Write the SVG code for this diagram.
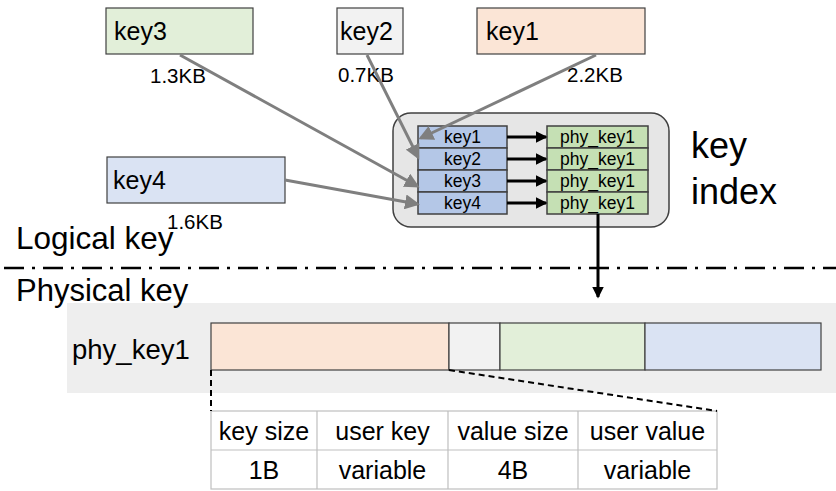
<svg xmlns="http://www.w3.org/2000/svg" width="836" height="491" viewBox="0 0 836 491">
  <style>
    text { font-family: "Liberation Sans", Arial, sans-serif; fill: #000; }
    .box { stroke: #404040; stroke-width: 1.2; }
    .cell { stroke: #404040; stroke-width: 1.5; }
    .kcell { fill: #b4c7e7; }
    .pcell { fill: #c5e0b4; }
    .ctext { font-size: 17.5px; text-anchor: middle; }
    .big { font-size: 25px; }
    .size { font-size: 20.5px; }
    .gray-arrow { stroke: #7f7f7f; stroke-width: 3; fill: none; }
    .black-arrow { stroke: #000; stroke-width: 3; fill: none; }
    .dashed { stroke: #000; stroke-width: 2; stroke-dasharray: 6 4; fill: none; }
    .tline { stroke: #bfbfbf; stroke-width: 1.2; fill: none; }
    .ttext { font-size: 25px; text-anchor: middle; }
  </style>
  <defs>
    <marker id="grayHead" markerWidth="5" markerHeight="5" refX="4" refY="2.5" orient="auto" markerUnits="strokeWidth">
      <path d="M0,0 L5,2.5 L0,5 Z" fill="#7f7f7f"/>
    </marker>
    <marker id="blackHead" markerWidth="4" markerHeight="4" refX="3.5" refY="2" orient="auto" markerUnits="strokeWidth">
      <path d="M0,0 L4,2 L0,4 Z" fill="#000"/>
    </marker>
  </defs>

  <!-- physical band -->
  <rect id="physical-band" x="67" y="303" width="769" height="90" fill="#eeeeee"/>

  <!-- logical / physical divider -->
  <line x1="4" y1="268" x2="836" y2="268" stroke="#000" stroke-width="2.5" stroke-dasharray="20 8 3 8"/>
  <text x="16" y="249" style="font-size:31.5px">Logical key</text>
  <text x="16" y="301" style="font-size:31px">Physical key</text>

  <!-- source keys -->
  <g id="key3">
    <rect class="box" x="106" y="8" width="147" height="46" fill="#e2efd9"/>
    <text class="big" x="114" y="40">key3</text>
    <text class="size" x="150" y="83">1.3KB</text>
  </g>
  <g id="key2">
    <rect class="box" x="337" y="8" width="66" height="46" fill="#f2f2f2"/>
    <text class="big" x="340" y="40">key2</text>
    <text class="size" x="338" y="82">0.7KB</text>
  </g>
  <g id="key1">
    <rect class="box" x="477" y="8" width="168" height="46" fill="#fbe5d6"/>
    <text class="big" x="486" y="40">key1</text>
    <text class="size" x="567" y="82">2.2KB</text>
  </g>
  <g id="key4">
    <rect class="box" x="107" y="157" width="178" height="46" fill="#dae3f3"/>
    <text class="big" x="113" y="189">key4</text>
    <text class="size" x="167" y="229">1.6KB</text>
  </g>

  <!-- key index -->
  <g id="key-index">
    <rect x="393" y="113" width="276" height="114" rx="18" fill="#e6e6e6" stroke="#404040" stroke-width="1.5"/>
    <rect class="cell kcell" x="418" y="126" width="89" height="22"/>
    <rect class="cell kcell" x="418" y="148" width="89" height="22"/>
    <rect class="cell kcell" x="418" y="170" width="89" height="22"/>
    <rect class="cell kcell" x="418" y="192" width="89" height="22"/>
    <text class="ctext" x="462.5" y="143">key1</text>
    <text class="ctext" x="462.5" y="165">key2</text>
    <text class="ctext" x="462.5" y="187">key3</text>
    <text class="ctext" x="462.5" y="209">key4</text>
    <rect class="cell pcell" x="547" y="126" width="101" height="22"/>
    <rect class="cell pcell" x="547" y="148" width="101" height="22"/>
    <rect class="cell pcell" x="547" y="170" width="101" height="22"/>
    <rect class="cell pcell" x="547" y="192" width="101" height="22"/>
    <text class="ctext" x="597.5" y="143">phy_key1</text>
    <text class="ctext" x="597.5" y="165">phy_key1</text>
    <text class="ctext" x="597.5" y="187">phy_key1</text>
    <text class="ctext" x="597.5" y="209">phy_key1</text>
    <text x="691" y="158" style="font-size:36px">key</text>
    <text x="691" y="204" style="font-size:36px">index</text>
  </g>

  <!-- physical record -->
  <g id="phy-record">
    <text x="72" y="359" style="font-size:27.5px">phy_key1</text>
    <rect class="box" x="211" y="323" width="238" height="47" fill="#fbe5d6"/>
    <rect class="box" x="449" y="323" width="51" height="47" fill="#f2f2f2"/>
    <rect class="box" x="500" y="323" width="145" height="47" fill="#e2efd9"/>
    <rect class="box" x="645" y="323" width="176" height="47" fill="#dae3f3"/>
  </g>

  <!-- record layout table -->
  <g id="layout-table">
    <rect class="tline" x="211" y="411" width="506" height="78" fill="#fff"/>
    <line class="tline" x1="211" y1="450" x2="717" y2="450"/>
    <line class="tline" x1="317" y1="411" x2="317" y2="489"/>
    <line class="tline" x1="448" y1="411" x2="448" y2="489"/>
    <line class="tline" x1="578" y1="411" x2="578" y2="489"/>
    <text class="ttext" x="264" y="440">key size</text>
    <text class="ttext" x="382.5" y="440">user key</text>
    <text class="ttext" x="513" y="440">value size</text>
    <text class="ttext" x="647.5" y="440">user value</text>
    <text class="ttext" x="264" y="479">1B</text>
    <text class="ttext" x="382.5" y="479">variable</text>
    <text class="ttext" x="513" y="479">4B</text>
    <text class="ttext" x="647.5" y="479">variable</text>
  </g>

  <!-- connectors -->
  <g id="connectors">
    <line class="gray-arrow" x1="180" y1="55" x2="417" y2="186" marker-end="url(#grayHead)"/>
    <line class="gray-arrow" x1="367" y1="55" x2="418" y2="157" marker-end="url(#grayHead)"/>
    <line class="gray-arrow" x1="596" y1="55" x2="421" y2="138" marker-end="url(#grayHead)"/>
    <line class="gray-arrow" x1="285" y1="180" x2="417" y2="204" marker-end="url(#grayHead)"/>
    <line class="black-arrow" x1="507" y1="137" x2="546" y2="137" marker-end="url(#blackHead)"/>
    <line class="black-arrow" x1="507" y1="159" x2="546" y2="159" marker-end="url(#blackHead)"/>
    <line class="black-arrow" x1="507" y1="181" x2="546" y2="181" marker-end="url(#blackHead)"/>
    <line class="black-arrow" x1="507" y1="203" x2="546" y2="203" marker-end="url(#blackHead)"/>
    <line class="black-arrow" x1="598" y1="214" x2="598" y2="297" marker-end="url(#blackHead)"/>
    <line class="dashed" x1="211" y1="370" x2="211" y2="411"/>
    <line class="dashed" x1="449" y1="370" x2="717" y2="411"/>
  </g>
</svg>
